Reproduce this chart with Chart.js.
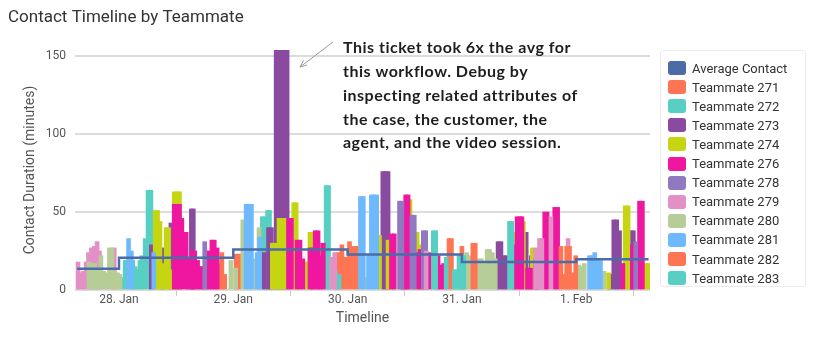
<!DOCTYPE html>
<html><head><meta charset="utf-8">
<script src="https://cdn.jsdelivr.net/npm/chart.js@4/dist/chart.umd.min.js"></script>
<style>
html,body{margin:0;padding:0;background:#fff;}
#wrap{position:relative;width:818px;height:350px;overflow:hidden;font-family:Roboto,sans-serif;}
#c{position:absolute;left:0;top:0;}
#legend{position:absolute;left:660px;top:50px;width:146px;height:237px;border:1px solid #ececec;border-radius:3px;box-sizing:border-box;}
.item{position:absolute;left:7px;height:16px;display:flex;align-items:center;font-size:13px;color:#333;white-space:nowrap;}
.sw{width:18px;height:14px;border-radius:3px;margin-right:6px;flex:none;}
</style></head>
<body><div id="wrap"><canvas id="c" width="818" height="350"></canvas><div id="legend"></div></div>
<script>
// time in hours since 27 Jan 00:00, value in minutes
const dayTicks = [24, 48, 72, 96, 120];
const dayLabels = ['28. Jan', '29. Jan', '30. Jan', '31. Jan', '1. Feb'];
const avgTimes = [15.2, 24, 48, 72, 96, 120, 135.2];
const avgValues = [13.6, 20.7, 26, 22.8, 18, 19.7, 19.7];

const t271 = [[45.0,17],[45.6,24],[46.2,10],[48.6,23],[49.2,23],[66.3,30],[70.0,24],[70.8,29],[71.6,21],[72.4,31],[73.2,28],[74.0,28]];
const t272 = [[24.6,8],[25.3,19],[26.9,19],[27.4,15],[27.8,13],[28.4,19],[28.8,22],[29.5,33],[30.1,64],[30.7,64],[54.1,47],[54.6,47],[55.2,51],[55.6,51],[67.5,67],[68.0,67],[69.5,12],[70.2,10]];
const t273 = [[30.8,29],[33.2,27],[34.9,43],[39.2,52],[39.6,52],[54.5,24],[55.4,40],[56.0,40],[57.0,154],[57.6,154],[58.2,154],[58.8,154],[59.3,154],[79.4,76],[80.0,76],[80.5,76],[83.6,44],[103.6,31],[104.2,31],[104.8,22],[105.4,22],[109.5,37],[110.6,22],[127.1,10],[127.9,45],[128.5,45],[129.1,38],[131.5,38],[132.0,38]];
const t274 = [[31.6,51],[32.1,51],[32.6,44],[33.3,17],[33.9,40],[34.4,40],[35.0,13],[35.6,63],[36.2,63],[36.7,63],[56.2,30],[56.7,30],[57.6,46],[58.2,46],[58.7,46],[60.7,56],[61.2,56],[63.3,18],[64.1,37],[64.6,37],[78.7,35],[80.5,32],[81.1,32],[81.6,32],[85.1,58],[86.6,37],[87.2,29],[107.1,37],[108.9,44],[110.8,27],[126.8,11],[130.3,54],[130.9,54],[134.6,17],[135.1,17]];
const t276 = [[35.6,55],[36.2,55],[36.7,55],[37.2,46],[38.1,37],[38.6,20],[39.3,25],[39.9,25],[40.5,19],[41.1,15],[41.6,15],[42.4,25],[42.9,25],[43.5,32],[44.0,32],[44.6,27],[59.6,46],[60.2,46],[61.4,32],[62.0,32],[62.6,20],[64.1,27],[64.6,27],[65.2,38],[65.8,38],[66.3,22],[66.9,30],[81.2,36],[81.8,36],[83.9,37],[84.2,61],[84.7,61],[86.6,24],[87.2,26],[87.8,18],[89.2,24],[91.0,22],[91.5,16],[92.2,17],[107.0,29],[107.6,47],[108.2,47],[108.6,47],[109.8,14],[110.4,14],[111.5,20],[112.0,20],[113.4,50],[113.9,50],[115.5,53],[116.1,53],[129.8,17],[131.8,29],[133.3,57],[133.9,57]];
const t278 = [[42.0,31],[82.9,57],[83.4,57],[85.5,48],[86.0,48],[87.9,38],[88.4,38],[132.5,31]];
const t279 = [[15.4,18],[15.9,11],[16.5,12],[17.1,18],[17.6,24],[18.2,27],[18.8,28],[19.4,31],[19.9,25],[23.0,27],[68.6,21],[69.3,24],[88.5,25],[111.5,27],[112.3,33],[112.8,33],[114.7,47],[118.3,33]];
const t280 = [[17.7,18],[18.3,17],[18.9,17],[19.5,14],[20.2,22],[20.8,12],[21.4,11],[22.0,27],[22.5,27],[23.1,12],[23.7,11],[24.2,10],[47.5,19],[48.5,14],[50.0,45],[52.4,20],[53.4,40],[75.8,8],[97.0,24],[97.7,22],[99.6,20],[100.1,20],[100.7,17],[101.3,26],[101.8,26],[102.4,24],[103.0,20],[120.5,16],[121.1,15],[121.7,17],[125.8,12]];
const t281 = [[26.0,33],[26.6,25],[31.3,24],[50.7,55],[51.3,55],[51.8,55],[53.0,24],[53.5,34],[74.7,60],[75.3,60],[76.4,23],[77.0,61],[77.5,61],[78.1,61],[122.8,22],[123.3,22],[123.9,24],[124.6,19],[125.1,19]];
const t282 = [[93.3,33],[93.8,33],[96.0,28],[98.3,30],[98.8,30],[116.8,28],[117.4,10],[118.0,28],[118.6,28],[119.2,11],[119.9,22]];
const t283 = [[90.0,38],[90.5,38],[92.7,21],[94.4,13],[95.0,13],[95.4,22],[96.0,22],[96.4,22],[106.0,44],[106.5,44]];

const teamNames = ['Teammate 271','Teammate 272','Teammate 273','Teammate 274','Teammate 276','Teammate 278','Teammate 279','Teammate 280','Teammate 281','Teammate 282','Teammate 283'];
const teamData = [t271,t272,t273,t274,t276,t278,t279,t280,t281,t282,t283];
const teamColors = ['#FE7553','#58CFC3','#8A4A9F','#C6D512','#EF17A0','#9179C0','#E290C5','#B7CD98','#6EB9FC','#FE7553','#58CFC3'];
const avgColor = '#4B6CA8';

const datasets = [{
  type: 'line', label: 'Average Contact',
  data: avgTimes.map((x, i) => ({x, y: avgValues[i]})),
  borderColor: avgColor, backgroundColor: avgColor, borderWidth: 2.5,
  pointRadius: 0, stepped: true, order: 0
}];
teamData.forEach((arr, i) => {
  datasets.push({
    type: 'bar', label: teamNames[i],
    data: arr.map(p => ({x: p[0], y: p[1]})),
    backgroundColor: teamColors[i], borderWidth: 0,
    barThickness: 4, grouped: false, order: 100 - i
  });
});

const annotationLines = ['This ticket took 6x the avg for','this workflow. Debug by','inspecting related attributes of','the case, the customer, the','agent, and the video session.'];

const deco = {
  id: 'deco',
  afterDraw(chart) {
    const ctx = chart.ctx;
    ctx.save();
    ctx.fillStyle = '#333';
    ctx.font = '17px Roboto';
    ctx.textBaseline = 'alphabetic';
    ctx.fillText('Contact Timeline by Teammate', 8, 22);
    ctx.fillStyle = '#1e1e1e';
    ctx.font = 'bold 16px Lato';
    if ('letterSpacing' in ctx) ctx.letterSpacing = '0.5px';
    ctx.textBaseline = 'middle';
    annotationLines.forEach((t, i) => ctx.fillText(t, 343, 48 + i * 23.8));
    if ('letterSpacing' in ctx) ctx.letterSpacing = '0px';
    ctx.strokeStyle = '#9a9a9a'; ctx.lineWidth = 1;
    ctx.beginPath(); ctx.moveTo(333, 42); ctx.lineTo(300, 67); ctx.stroke();
    ctx.beginPath(); ctx.moveTo(300, 67); ctx.lineTo(303.5, 60.5); ctx.moveTo(300, 67); ctx.lineTo(307, 65); ctx.stroke();
    ctx.restore();
  }
};

new Chart(document.getElementById('c'), {
  data: { datasets },
  options: {
    responsive: false, animation: false, devicePixelRatio: 1,
    layout: { padding: { left: 0, right: 168, top: 50, bottom: 0 } },
    plugins: { legend: { display: false }, tooltip: { enabled: false } },
    scales: {
      x: {
        type: 'linear', min: 14.76, max: 135.5, offset: false,
        afterFit: s => { s.height = 60; },
        afterBuildTicks: s => { s.ticks = dayTicks.map(v => ({value: v})); },
        ticks: { autoSkip: false, maxRotation: 0, padding: -3, color: '#555', font: { family: 'Roboto', size: 12 },
          callback: v => dayLabels[dayTicks.indexOf(v)] },
        grid: { drawOnChartArea: false, drawTicks: true, tickLength: 6, color: '#c8c8c8' },
        border: { display: false },
        title: { display: true, text: 'Timeline', color: '#555', font: { family: 'Roboto', size: 14 }, padding: { top: 0, bottom: 23 } }
      },
      y: {
        min: 0, max: 154,
        afterFit: s => { s.width = 75; },
        afterBuildTicks: s => { s.ticks = [0, 50, 100, 150].map(v => ({value: v})); },
        ticks: { padding: 9, color: '#555', font: { family: 'Roboto', size: 12 } },
        grid: { drawTicks: false, color: '#dcdcdc', lineWidth: 2 },
        border: { display: false },
        title: { display: true, text: 'Contact Duration (minutes)', color: '#555', font: { family: 'Roboto', size: 14 }, padding: { top: 22, bottom: 0 } }
      }
    }
  },
  plugins: [deco]
});

// legend
const legend = document.getElementById('legend');
const legItems = [['Average Contact', avgColor]].concat(teamNames.map((n, i) => [n, teamColors[i]]));
legItems.forEach((it, i) => {
  const d = document.createElement('div');
  d.className = 'item';
  d.style.top = (9 + i * 19.1) + 'px';
  d.innerHTML = '<span class="sw" style="background:' + it[1] + '"></span><span>' + it[0] + '</span>';
  legend.appendChild(d);
});
</script></body></html>
